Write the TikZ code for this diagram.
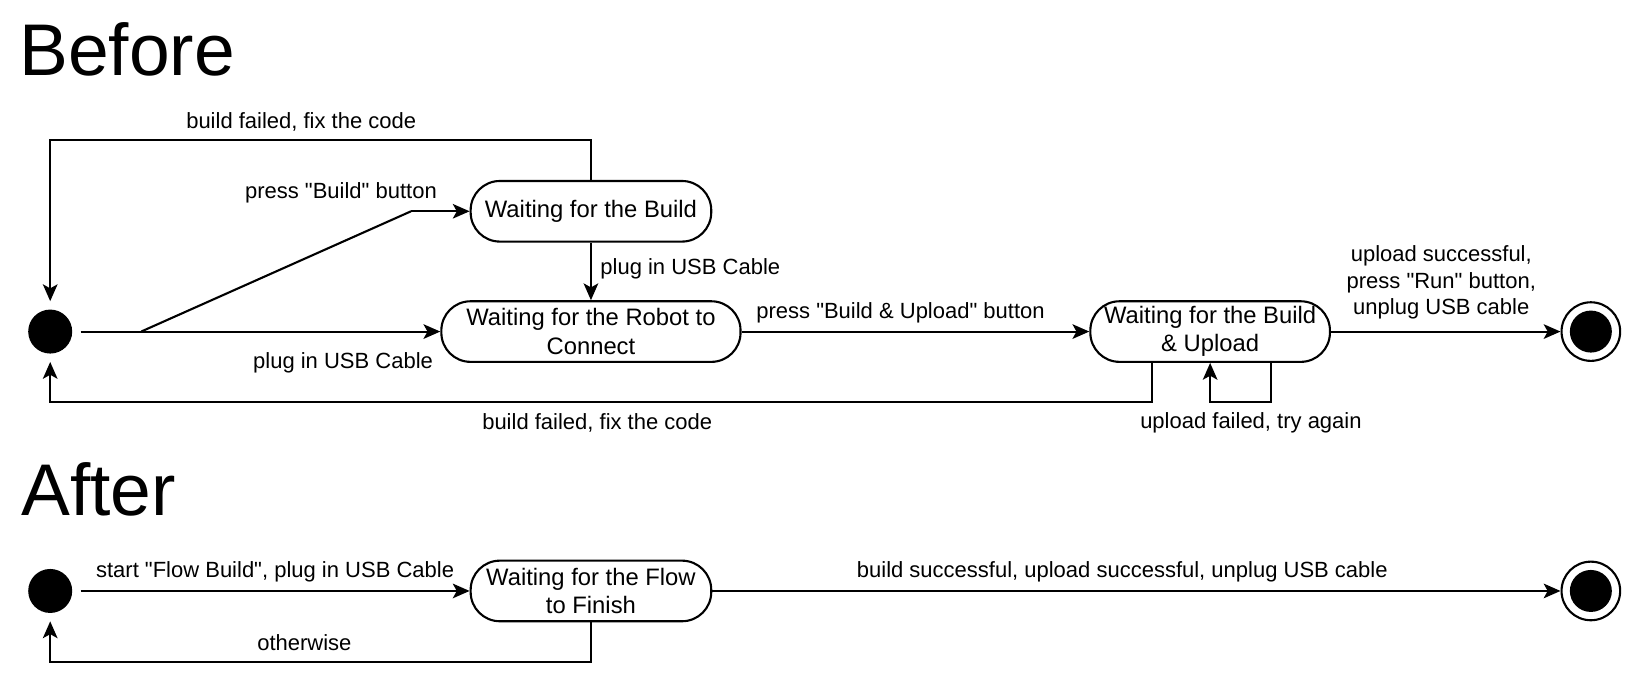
\documentclass[tikz,border=0pt]{standalone}
\usepackage{fontspec}
\setmainfont{Liberation Sans}[Ligatures=TeXOff]
\usetikzlibrary{arrows.meta}
\tikzset{
  state/.style={draw, line width=1.05pt, rounded corners=14.6pt, minimum height=30.3pt,
    align=center, inner sep=1pt, font=\fontsize{11.9}{14.2}\selectfont},
  initstate/.style={circle, fill, minimum size=22pt, inner sep=0pt},
  finalstate/.style={circle, draw, line width=1.05pt, minimum size=29.3pt, inner sep=0pt,
    path picture={\fill (path picture bounding box.center) circle (10.5pt);}},
  lbl/.style={align=center, inner sep=0pt, font=\fontsize{11}{13.2}\selectfont},
  title/.style={anchor=base west, inner sep=0pt, font=\fontsize{36.6}{42}\selectfont},
  trans/.style={line width=1.05pt, -{Stealth[length=8.4pt,width=7.3pt,inset=2pt]}}
}
\begin{document}
\begin{tikzpicture}[x=0.523pt,y=-0.523pt]
  \useasboundingbox (0,0) rectangle (1568,650);
  % before
  \draw
    (18,72) node[title] (before){Before}
    (48,317) node[initstate] (start1){}
    (565,202) node[state, minimum width=120.3pt] (build){Waiting for the Build}
    (565,317) node[state, minimum width=149.6pt] (robot){Waiting for the Robot to\\Connect}
    (1157,317) node[state, minimum width=119.8pt] (upload){Waiting for the Build\\\& Upload}
    (1521,317) node[finalstate] (end1){};
  \coordinate (fork) at (135,317);
  \coordinate (bend) at (393,202);
  \begin{scope}[trans]
    \draw[shorten <=4pt] (start1) -- (robot);
    \draw[-] (fork) -- (bend);
    \draw (bend) -- (build);
    \draw (build) -- (robot);
    \draw (robot) -- (upload);
    \draw (upload) -- (end1);
    \draw[shorten >=4pt] (build.north) -- ++(0,-38) -| (start1);
    \draw[shorten >=4pt] (upload.south) ++(-56,0) -- ++(0,37) -| (start1);
    \draw (upload.south) ++(58,0) -- ++(0,37) -| (upload.south);
  \end{scope}
  \draw
    (288,117) node[lbl] (l1){build failed, fix the code}
    (326,184) node[lbl] (l2){press "Build" button}
    (328,347) node[lbl] (l3){plug in USB Cable}
    (660,257) node[lbl] (l4){plug in USB Cable}
    (861,299) node[lbl] (l5){press "Build \& Upload" button}
    (1378,270) node[lbl] (l6){upload successful,\\press "Run" button,\\unplug USB cable}
    (571,404) node[lbl] (l7){build failed, fix the code}
    (1196,404) node[lbl] (l8){upload failed, try again};
  % after
  \draw
    (20,493) node[title] (after){After}
    (48,565) node[initstate] (start2){}
    (565,565) node[state, minimum width=120.3pt] (flow){Waiting for the Flow\\to Finish}
    (1521,565) node[finalstate] (end2){};
  \begin{scope}[trans]
    \draw[shorten <=4pt] (start2) -- (flow);
    \draw (flow) -- (end2);
    \draw[shorten >=4pt] (flow.south) -- ++(0,38) -| (start2);
  \end{scope}
  \draw
    (263,547) node[lbl] (l9){start "Flow Build", plug in USB Cable}
    (1073,547) node[lbl] (l10){build successful, upload successful, unplug USB cable}
    (291,614) node[lbl] (l11){otherwise};
\end{tikzpicture}
\end{document}
